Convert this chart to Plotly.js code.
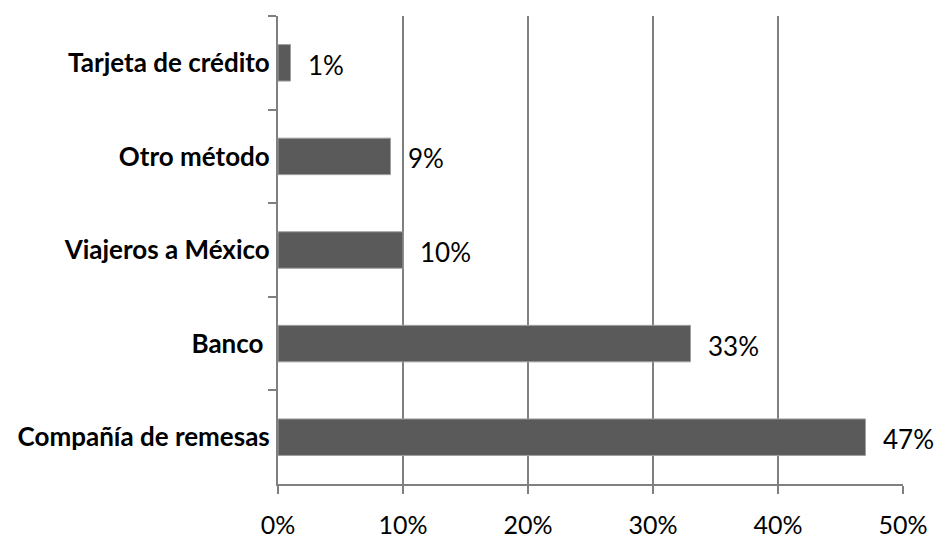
<!DOCTYPE html>
<html>
<head>
<meta charset="utf-8">
<script src="https://cdn.plot.ly/plotly-3.0.1.min.js"></script>
<style>html,body{margin:0;padding:0;background:#fff;}#chart{width:940px;height:543px;}</style>
</head>
<body>
<div id="chart"></div>
<script>
const categories = ["Tarjeta de crédito", "Otro método", "Viajeros a México", "Banco ", "Compañía de remesas"];
const values = [0.01, 0.09, 0.10, 0.33, 0.47];
const valueLabels = ["1%", "9%", "10%", "33%", "47%"];
const xTickVals = [0, 0.1, 0.2, 0.3, 0.4, 0.5];
const xTickText = ["0%", "10%", "20%", "30%", "40%", "50%"];

const font = "Lato, 'Open Sans', sans-serif";

const trace = {
  type: "bar",
  orientation: "h",
  x: values,
  y: categories,
  marker: {color: "#5a5a5a", line: {color: "#a0a0a0", width: 1}},
  width: 0.39,
  hoverinfo: "none"
};

const annotations = categories.map((c, i) => ({
  x: values[i], y: c, xref: "x", yref: "y",
  text: valueLabels[i], showarrow: false,
  xanchor: "left", yanchor: "middle", xshift: 15, yshift: -2,
  font: {family: font, size: 26, color: "#000"}
}));

const layout = {
  width: 940, height: 543,
  margin: {l: 278, r: 37, t: 16, b: 59},
  paper_bgcolor: "#fff", plot_bgcolor: "#fff",
  showlegend: false,
  xaxis: {
    range: [0, 0.5], tickvals: xTickVals, ticktext: xTickText,
    showgrid: true, gridcolor: "#808080", gridwidth: 2,
    showline: true, linecolor: "#808080", linewidth: 2,
    ticks: "outside", ticklen: 8, tickwidth: 2, tickcolor: "#808080",
    ticklabelstandoff: 10,
    zeroline: false,
    tickfont: {family: font, size: 25, color: "#000"},
    fixedrange: true
  },
  yaxis: {
    type: "category", autorange: "reversed",
    tickson: "boundaries",
    showgrid: false,
    showline: true, linecolor: "#808080", linewidth: 2,
    ticks: "outside", ticklen: 8, tickwidth: 2, tickcolor: "#808080",
    ticklabelstandoff: 1,
    tickfont: {family: font, size: 26, color: "#000", weight: "bold"},
    fixedrange: true
  },
  annotations: annotations
};

Plotly.newPlot("chart", [trace], layout, {displayModeBar: false, staticPlot: true});
</script>
</body>
</html>
